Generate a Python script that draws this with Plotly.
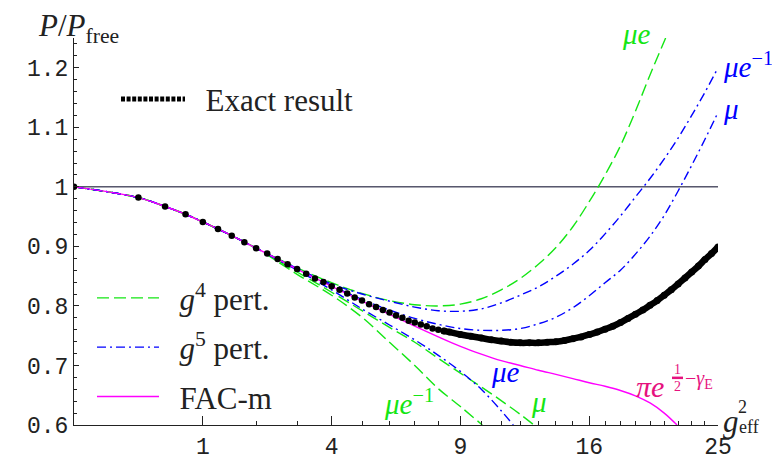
import numpy as np
import plotly.graph_objects as go

# ---------------- data (x values are g_eff^2, y values are P/P_free) ----------------
exact_dot_g2 = [0, 0.25, 0.5, 0.75, 1.0, 1.25, 1.5, 1.75, 2.0, 2.25, 2.5, 2.75, 3.0, 3.25,
                3.5, 3.75, 4.0, 4.25, 4.5, 4.75, 5.0, 5.25, 5.5, 5.75, 6.0, 6.25, 6.5, 6.75,
                7.0, 7.25, 7.5, 7.75, 8.0, 8.25]
exact_dot_v = [1.0, 0.982, 0.967, 0.954, 0.941, 0.929, 0.918, 0.907, 0.897, 0.888, 0.879,
               0.870, 0.862, 0.854, 0.846, 0.840, 0.833, 0.827, 0.821, 0.814, 0.809, 0.803,
               0.798, 0.793, 0.789, 0.784, 0.780, 0.775, 0.772, 0.769, 0.766, 0.762, 0.760,
               0.758]
exact_band_g2 = [8.25, 8.5, 9, 9.5, 10, 10.5, 11, 11.5, 12, 12.5, 13, 13.5, 14, 14.5, 15, 15.5,
                 16, 16.5, 17, 17.5, 18, 18.5, 19, 19.5, 20, 20.5, 21, 21.5, 22, 22.5, 23,
                 23.5, 24, 24.5, 25]
exact_band_v = [0.758, 0.756, 0.752, 0.749, 0.746, 0.743, 0.741, 0.739, 0.738, 0.738, 0.738,
                0.739, 0.740, 0.742, 0.745, 0.748, 0.752, 0.756, 0.761, 0.766, 0.772, 0.779,
                0.786, 0.793, 0.801, 0.809, 0.818, 0.827, 0.837, 0.847, 0.857, 0.867, 0.878,
                0.888, 0.899]

# common small-coupling part shared by all approximations
low_g2 = [0, 0.25, 0.5, 0.75, 1, 1.5, 2]
low_v = [1.0, 0.982, 0.967, 0.954, 0.941, 0.918, 0.897]

g4_mue_g2 = [3, 4, 5, 6, 7, 8, 9, 10, 11, 12, 13, 14, 15, 16, 17, 18, 19, 20, 21.1]
g4_mue_v = [0.864, 0.839, 0.821, 0.809, 0.802, 0.800, 0.803, 0.812, 0.827,
            0.846, 0.870, 0.898, 0.933, 0.975, 1.020, 1.069, 1.127, 1.188, 1.25]
g4_mu_g2 = [3, 4, 5, 6, 7, 8, 9, 10, 11, 12, 12.75]
g4_mu_v = [0.857, 0.823, 0.792, 0.764, 0.739, 0.712, 0.687, 0.664, 0.641, 0.618, 0.6]
g4_mue1_g2 = [3, 4, 5, 6, 7, 8, 9, 10.05]
g4_mue1_v = [0.853, 0.818, 0.781, 0.739, 0.700, 0.661, 0.631, 0.6]

g5_g2 = [3, 4, 5, 6, 7, 8, 9, 10, 11, 12, 13, 14, 15, 16, 17, 18, 19, 20, 21, 22, 23, 24, 25]
g5_mue1_v = [0.863, 0.837, 0.820, 0.808, 0.798, 0.792, 0.791, 0.795, 0.805,
             0.818, 0.832, 0.850, 0.870, 0.893, 0.921, 0.951, 0.983, 1.014, 1.047, 1.082,
             1.120, 1.159, 1.200]
g5_mu_v = [0.862, 0.834, 0.811, 0.793, 0.779, 0.769, 0.762, 0.759, 0.759,
           0.762, 0.770, 0.781, 0.797, 0.817, 0.839, 0.860, 0.887, 0.917, 0.952, 0.993,
           1.036, 1.080, 1.125]
g5_mue_g2 = [3, 4, 5, 6, 7, 8, 9, 10, 11, 11.63]
g5_mue_v = [0.860, 0.827, 0.795, 0.768, 0.743, 0.717, 0.690, 0.660, 0.624, 0.6]

fac_g2 = [3, 4, 5, 6, 7, 8, 9, 10, 11, 12, 13, 14, 15, 16, 17, 18, 19, 20, 21, 21.92]
fac_v = [0.862, 0.833, 0.808, 0.786, 0.766, 0.748, 0.732, 0.719, 0.708,
         0.700, 0.692, 0.685, 0.678, 0.671, 0.665, 0.658, 0.649, 0.637, 0.620, 0.6]

ref_g2 = [0, 25]
ref_v = [1, 1]

x_major = [1, 4, 9, 16, 25]
x_major_text = ["1", "4", "9", "16", "25"]
x_minor = [2, 3, 5, 6, 7, 8, 10, 11, 12, 13, 14, 15, 17, 18, 19, 20, 21, 22, 23, 24]
y_major = [0.6, 0.7, 0.8, 0.9, 1.0, 1.1, 1.2]
y_major_text = ["0.6", "0.7", "0.8", "0.9", "1", "1.1", "1.2"]

# ---------------- styling ----------------
GREEN = "#14e614"
BLUE = "#0000ff"
MAG = "#ff00ff"
PINK = "#e6127e"
SERIF = "Liberation Serif, Times New Roman, serif"
MONO = "Liberation Mono, Courier New, monospace"
DASH = "12px,5px"
DASHDOT = "9px,4px,2px,4px"
GAP = "\u2002"

L, R, T, B = 66, 70, 30, 37
W, H = 780, 465
PW, PH = W - L - R, H - T - B


def P(xpx, ypx):
    return (xpx - L) / PW, (H - B - ypx) / PH


def sx(v):
    return np.sqrt(np.asarray(v, dtype=float))


def full(g2, v):
    return sx(list(low_g2) + list(g2)), list(low_v) + list(v)


fig = go.Figure()

fig.add_trace(go.Scatter(x=sx(ref_g2), y=ref_v, mode="lines",
                         line=dict(color="#000020", width=1), showlegend=False))


def curve(g2, v, color, dash, **kw):
    x, y = full(g2, v)
    fig.add_trace(go.Scatter(x=x, y=y, mode="lines", line_shape="spline",
                             line=dict(color=color, width=1.4, dash=dash), **kw))


curve(g4_mue_g2, g4_mue_v, GREEN, DASH, name=GAP + "<i>g</i><sup>4</sup> pert.",
      legend="legend2", legendgroup="a")
curve(g4_mu_g2, g4_mu_v, GREEN, DASH, showlegend=False)
curve(g4_mue1_g2, g4_mue1_v, GREEN, DASH, showlegend=False)
curve(g5_g2, g5_mue1_v, BLUE, DASHDOT, name=GAP + "<i>g</i><sup>5</sup> pert.",
      legend="legend2", legendgroup="b")
curve(g5_g2, g5_mu_v, BLUE, DASHDOT, showlegend=False)
curve(g5_mue_g2, g5_mue_v, BLUE, DASHDOT, showlegend=False)
curve(fac_g2, fac_v, MAG, None, name=GAP + "FAC-m", legend="legend2", legendgroup="c")

fig.add_trace(go.Scatter(x=sx(exact_band_g2), y=exact_band_v, mode="lines+markers",
                         line_shape="spline",
                         line=dict(color="black", width=6.5),
                         marker=dict(color="black", size=7), showlegend=False))
fig.add_trace(go.Scatter(x=sx(exact_dot_g2), y=exact_dot_v, mode="markers",
                         marker=dict(color="black", size=6.5), showlegend=False))
# legend-only sample for the exact result
fig.add_trace(go.Scatter(x=[None], y=[None], mode="lines",
                         line=dict(color="black", width=5, dash="4px,1.6px"),
                         name=GAP + "Exact result", legend="legend"))

ann = []


def txt(xpx, ypx, text, size, color, xanchor="center", yanchor="middle"):
    xp, yp = P(xpx, ypx)
    ann.append(dict(x=xp, y=yp, xref="paper", yref="paper", text=text, showarrow=False,
                    font=dict(family=SERIF, size=size, color=color),
                    xanchor=xanchor, yanchor=yanchor))


txt(28, 20, "<i>P</i>/<i>P</i><sub>free</sub>", 31, "#222", xanchor="left")
txt(713, 424, "<i>g</i>", 31, "#222", xanchor="left")
txt(728, 409, "2", 18, "#222", xanchor="left")
txt(729, 430, "eff", 18, "#222", xanchor="left")

txt(628, 26, "<i>μe</i>", 29, GREEN)
txt(713, 58, "<i>μe</i><sup>−1</sup>", 29, BLUE, xanchor="left")
txt(713, 103, "<i>μ</i>", 29, BLUE, xanchor="left")
txt(497, 374, "<i>μe</i>", 29, BLUE)
txt(401, 404, "<i>μe</i><sup>−1</sup>", 29, GREEN)
txt(531, 404, "<i>μ</i>", 29, GREEN)
txt(626, 388, "<i>πe</i>", 30, PINK, xanchor="left")
txt(669, 371, "1", 14, PINK)
txt(669, 388, "2", 14, PINK)
txt(675, 381, "−<i>γ</i><sub>E</sub>", 20, PINK, xanchor="left")

shapes = []
x0p, y0p = P(664, 379.5)
x1p, _ = P(675, 379.5)
shapes.append(dict(type="line", xref="paper", yref="paper", x0=x0p, x1=x1p, y0=y0p, y1=y0p,
                   line=dict(color=PINK, width=2.5)))

lx, ly = P(108, 93)
l2x, l2y = P(84, 348)

fig.update_layout(
    width=W, height=H,
    margin=dict(l=L, r=R, t=T, b=B),
    paper_bgcolor="white", plot_bgcolor="white",
    annotations=ann, shapes=shapes,
    legend=dict(x=lx, y=ly, xanchor="left", yanchor="middle", bgcolor="rgba(0,0,0,0)",
                font=dict(family=SERIF, size=31, color="#222"), itemwidth=64),
    legend2=dict(x=l2x, y=l2y, xanchor="left", yanchor="middle", bgcolor="rgba(0,0,0,0)",
                 font=dict(family=SERIF, size=31, color="#222"), itemwidth=62,
                 tracegroupgap=6),
    xaxis=dict(range=[0, 5], showline=True, linecolor="#222", linewidth=1, showgrid=False,
               zeroline=False, ticks="inside", ticklen=9, tickcolor="#222",
               tickvals=list(sx(x_major)), ticktext=x_major_text,
               tickfont=dict(family=MONO, size=23, color="#222"),
               minor=dict(tickvals=list(sx(x_minor)), ticks="inside", ticklen=4,
                          tickcolor="#222", showgrid=False)),
    yaxis=dict(range=[0.6, 1.25], showline=True, linecolor="#222", linewidth=1, showgrid=False,
               zeroline=False, ticks="inside", ticklen=5, tickcolor="#222",
               tickvals=y_major, ticktext=y_major_text,
               tickfont=dict(family=MONO, size=23, color="#222"),
               minor=dict(tickvals=[round(0.6 + 0.02 * i, 2) for i in range(33)
                                    if i % 5 != 0],
                          ticks="inside", ticklen=3, tickcolor="#222", showgrid=False)),
)

fig.write_html("out.html")
